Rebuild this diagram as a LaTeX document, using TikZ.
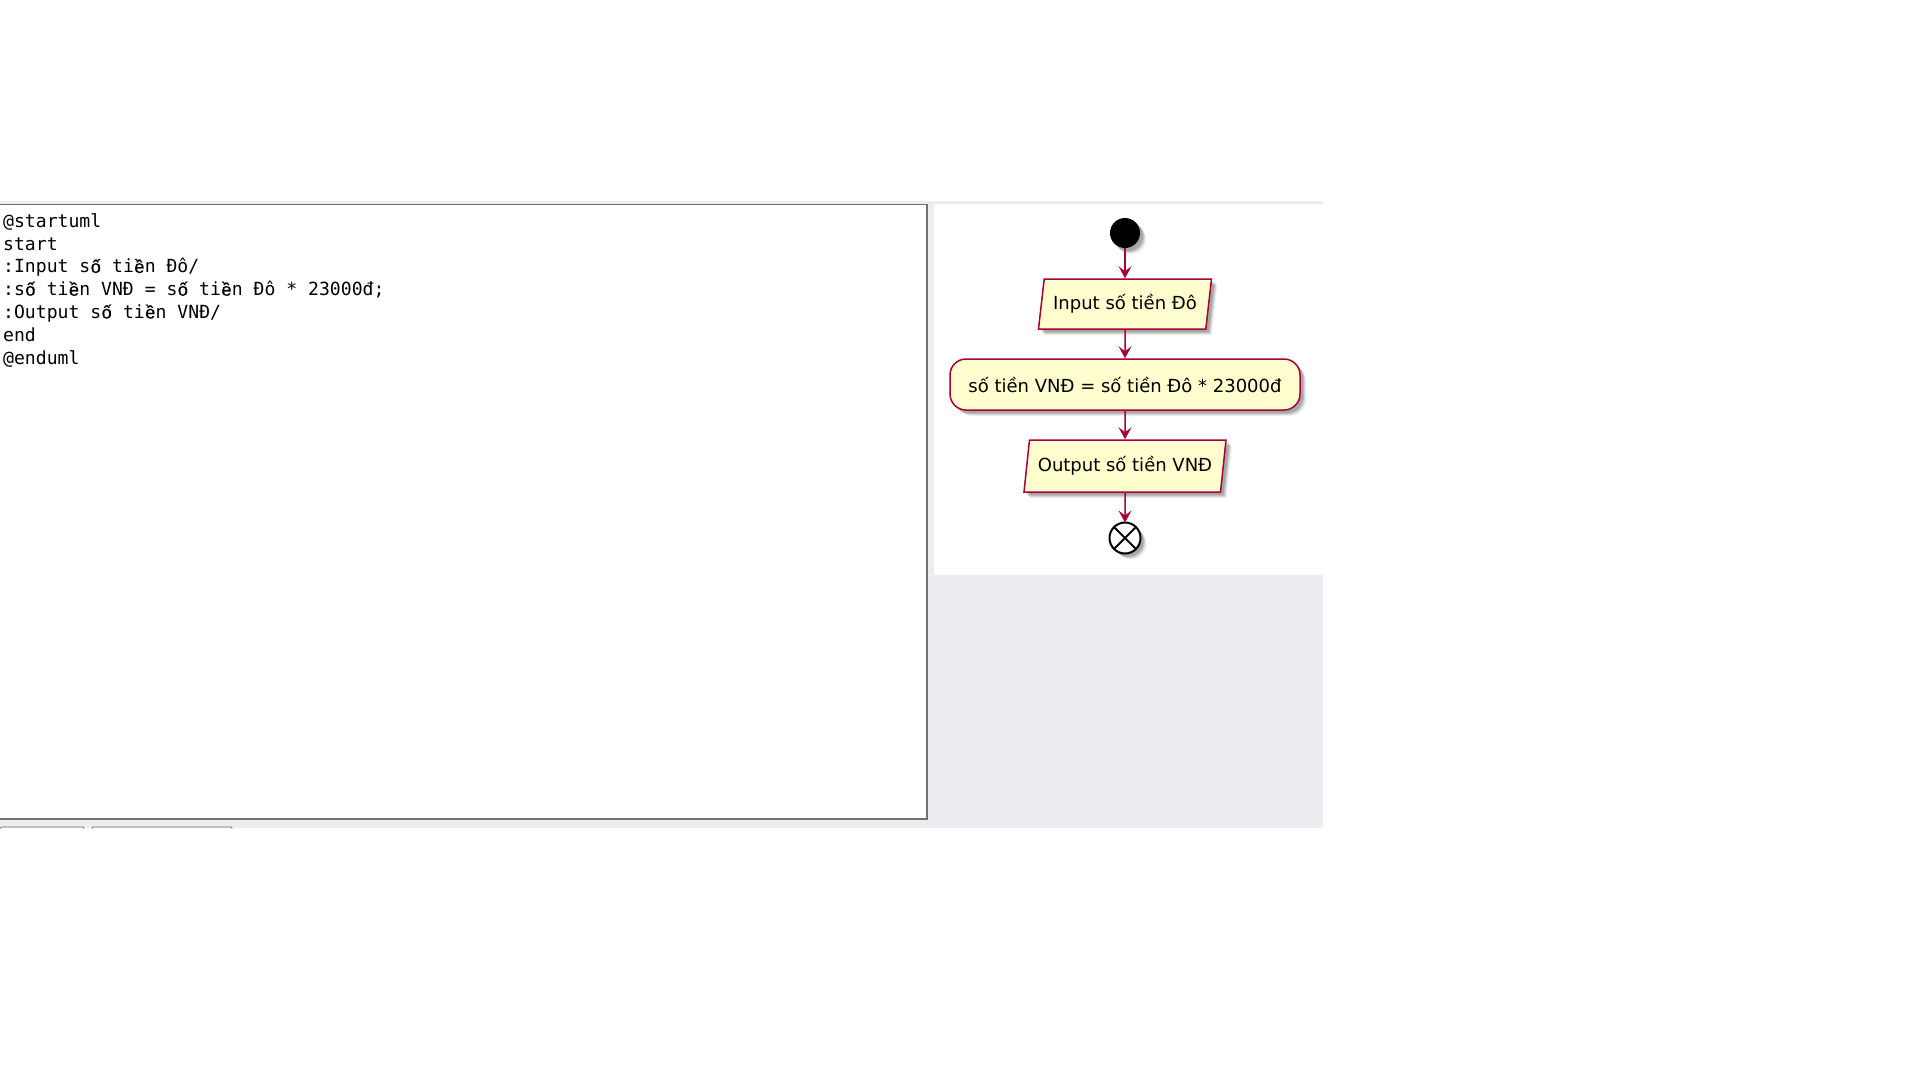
\documentclass[tikz,border=0pt]{standalone}
\usepackage{fontspec}
\setmainfont{DejaVu Sans}
\newfontfamily\codefont{DejaVu Sans Mono}
\newfontfamily\vnmono{Liberation Mono}[FakeBold=0.6]
\newcommand\myo{{\vnmono ố}}
\newcommand\mye{{\vnmono ề}}
\usetikzlibrary{shapes.geometric,arrows.meta,shadows}
\definecolor{pured}{HTML}{A80036}
\definecolor{puyellow}{HTML}{FEFECE}
\definecolor{bggray}{RGB}{236,237,241}
\definecolor{boxgray}{RGB}{112,112,112}
\tikzset{
  pushadow/.style={
    general shadow={shadow xshift=6pt, shadow yshift=-6pt, fill=black, opacity=0.06},
    general shadow={shadow xshift=5pt, shadow yshift=-5pt, fill=black, opacity=0.09},
    general shadow={shadow xshift=4pt, shadow yshift=-4pt, fill=black, opacity=0.12},
    general shadow={shadow xshift=3pt, shadow yshift=-3pt, fill=black, opacity=0.12}},
  pu/.style={draw=pured, line width=1.5pt, fill=puyellow, text=black,
    font=\fontsize{18}{22}\selectfont, inner sep=0pt, pushadow},
  io/.style={pu, trapezium, trapezium stretches body},
  act/.style={pu, rectangle, rounded corners=16pt},
  startnode/.style={circle, fill=black, minimum size=30pt, inner sep=0pt, pushadow},
  endnode/.style={circle, draw=black, line width=2pt, fill=white, minimum size=31pt,
    inner sep=0pt, outer sep=0pt, pushadow},
  flow/.style={draw=pured, line width=1.5pt, -{Stealth[length=12pt, width=13pt, inset=5pt]}},
  codeline/.style={anchor=base west, inner sep=0pt, text=black,
    font=\codefont\fontsize{18.1}{22.8}\selectfont},
  tabline/.style={draw=boxgray, line width=0.8pt, rounded corners=1pt}
}
\begin{document}
\begin{tikzpicture}[x=1pt, y=-1pt]
\useasboundingbox (0,0) rectangle (1920,1080);
\fill[white] (0,0) rectangle (1920,1080);
% panels
\fill[bggray] (0,201) rectangle (1323,828);
\fill[white] (934,204) rectangle (1323,575);
\draw[draw=boxgray, line width=1.3pt, fill=white] (-2,204.5) rectangle (927,819);
\draw[tabline] (0.4,828.5) -- (0.4,827) -- (84,827) -- (84,828.5);
\draw[tabline] (92,828.5) -- (92,827) -- (232,827) -- (232,828.5);
% code
\node[codeline] (l1) at (3,227.3) {@startuml};
\node[codeline] (l2) at (3,250.1) {start};
\node[codeline] (l3) at (3,272.9) {:Input s\myo{} ti\mye{}n Đô/};
\node[codeline] (l4) at (3,295.7) {:s\myo{} ti\mye{}n VNĐ = s\myo{} ti\mye{}n Đô * 23000đ;};
\node[codeline] (l5) at (3,318.5) {:Output s\myo{} ti\mye{}n VNĐ/};
\node[codeline] (l6) at (3,341.3) {end};
\node[codeline] (l7) at (3,364.1) {@enduml};
% diagram
\node[startnode] (s) at (1125,233) {};
\node[io, trapezium left angle=73.3, trapezium right angle=106.7,
      minimum width=173pt, minimum height=50pt] (in) at (1125,304) {Input số tiền Đô};
\node[act, minimum width=350pt, minimum height=51pt] (calc) at (1125,384.5)
      {số tiền VNĐ = số tiền Đô * 23000đ};
\node[io, trapezium left angle=73.9, trapezium right angle=106.1,
      minimum width=202pt, minimum height=52pt] (out) at (1125,466) {Output số tiền VNĐ};
\node[endnode] (e) at (1125,538) {};
\draw[black, line width=2pt] (e.north east) -- (e.south west) (e.north west) -- (e.south east);
\draw[flow] (s) -- (in);
\draw[flow] (in) -- (calc);
\draw[flow] (calc) -- (out);
\draw[flow] (out) -- (e);
\end{tikzpicture}
\end{document}
